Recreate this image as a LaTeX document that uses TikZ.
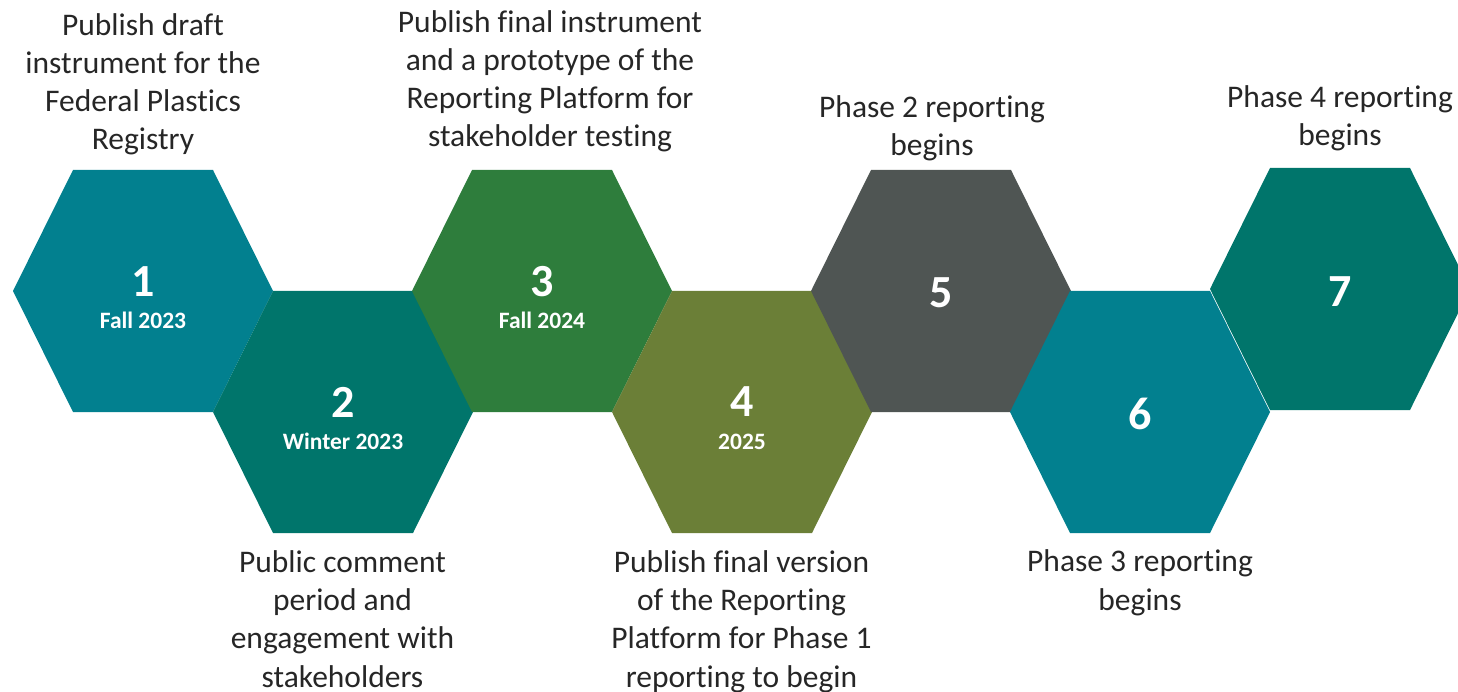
\documentclass[tikz,border=0pt]{standalone}
\usepackage{fontspec}
\setmainfont{Carlito}[Ligatures=NoCommon]
\definecolor{cteal}{HTML}{02808F}
\definecolor{cdteal}{HTML}{00756B}
\definecolor{cgreen}{HTML}{2E7D3C}
\definecolor{colive}{HTML}{6B7F37}
\definecolor{cgrey}{HTML}{4F5553}
\definecolor{ctext}{HTML}{262626}
\tikzset{
  hexnum/.style={anchor=base,text=white,font=\fontsize{46}{50}\selectfont\bfseries,inner sep=0pt},
  hexsub/.style={anchor=base,text=white,font=\fontsize{23.5}{28}\selectfont\bfseries,inner sep=0pt},
  lbl/.style={anchor=base,text=ctext,align=center,font=\fontsize{31.5}{38.3}\selectfont,inner sep=0pt},
}
\newcommand{\hexshape}[4]{% name, x, y, colour
  \fill[#4] (#2-130,#3) -- (#2-70,#3-121) -- (#2+70,#3-121) -- (#2+130,#3) -- (#2+70,#3+121) -- (#2-70,#3+121) -- cycle;
  \coordinate (#1) at (#2,#3);
}
\begin{document}
\begin{tikzpicture}[x=1pt,y=-1pt]
\useasboundingbox (0,0) rectangle (1458,692);
\hexshape{h1}{143}{291}{cteal}
\hexshape{h2}{343}{412}{cdteal}
\hexshape{h3}{542}{291}{cgreen}
\hexshape{h4}{742}{412}{colive}
\hexshape{h5}{941}{291}{cgrey}
\hexshape{h6}{1140}{412}{cteal}
\hexshape{h7}{1340}{289}{cdteal}
\node[hexnum] (n1) at ([yshift=-6pt]h1) {1};
\node[hexsub] (s1) at ([yshift=-37.5pt]h1) {Fall 2023};
\node[hexnum] (n2) at ([yshift=-5pt]h2) {2};
\node[hexsub] (s2) at ([yshift=-37.5pt]h2) {Winter 2023};
\node[hexnum] (n3) at ([yshift=-6pt]h3) {3};
\node[hexsub] (s3) at ([yshift=-37.5pt]h3) {Fall 2024};
\node[hexnum] (n4) at ([yshift=-4pt]h4) {4};
\node[hexsub] (s4) at ([yshift=-37.5pt]h4) {2025};
\node[hexnum] (n5) at ([yshift=-17pt]h5) {5};
\node[hexnum] (n6) at ([yshift=-17pt]h6) {6};
\node[hexnum] (n7) at ([yshift=-18pt]h7) {7};
\node[lbl] (l1) at (143,150) {Publish draft\\instrument for the\\Federal Plastics\\Registry};
\node[lbl] (l3) at (550,147) {Publish final instrument\\and a prototype of the\\Reporting Platform for\\stakeholder testing};
\node[lbl] (l5) at (932,156) {Phase 2 reporting\\begins};
\node[lbl] (l7) at (1340,146) {Phase 4 reporting\\begins};
\node[lbl] (l2) at (342.5,687) {Public comment\\period and\\engagement with\\stakeholders};
\node[lbl] (l4) at (741.5,687) {Publish final version\\of the Reporting\\Platform for Phase 1\\reporting to begin};
\node[lbl] (l6) at (1140,610) {Phase 3 reporting\\begins};
\end{tikzpicture}
\end{document}
